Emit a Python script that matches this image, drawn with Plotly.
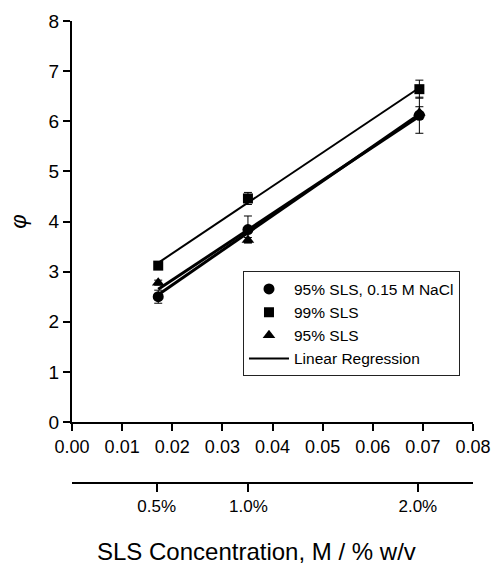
import numpy as np
import plotly.graph_objects as go

# ---- data ----
conc_M = [0.0172, 0.0351, 0.0693]

phi_nacl = [2.50, 3.84, 6.12]        # 95% SLS, 0.15 M NaCl
err_nacl = [0.13, 0.27, 0.36]
phi_99 = [3.12, 4.46, 6.64]          # 99% SLS
err_99 = [0.05, 0.12, 0.18]
phi_95 = [2.78, 3.63, 6.17]          # 95% SLS
err_95 = [0.05, 0.05, 0.12]

pct_tickvals = [0.0169, 0.0352, 0.0690]
pct_ticktext = ["0.5%", "1.0%", "2.0%"]

x_tickvals = [0.00, 0.01, 0.02, 0.03, 0.04, 0.05, 0.06, 0.07, 0.08]
y_tickvals = [0, 1, 2, 3, 4, 5, 6, 7, 8]

x_title = "SLS Concentration, M / % w/v"

FONT = "Liberation Sans, Arial, Helvetica, sans-serif"

series = [
    ("95% SLS, 0.15 M NaCl", phi_nacl, err_nacl, "circle", 11, 3.0),
    ("99% SLS", phi_99, err_99, "square", 10, 2.0),
    ("95% SLS", phi_95, err_95, "triangle-up", 11, 3.0),
]

fig = go.Figure()

# regression lines
xr = np.array([conc_M[0], conc_M[-1]])
for name, ys, es, sym, sz, lw in series:
    k, b = np.polyfit(conc_M, ys, 1)
    fig.add_trace(go.Scatter(x=xr, y=k * xr + b, mode="lines",
                             line=dict(color="black", width=lw),
                             showlegend=False, hoverinfo="skip"))

# markers with error bars
for name, ys, es, sym, sz, lw in series:
    fig.add_trace(go.Scatter(
        x=conc_M, y=ys, mode="markers", name=name,
        marker=dict(symbol=sym, size=sz, color="black"),
        error_y=dict(type="data", array=es, visible=True,
                     color="black", thickness=1, width=4),
    ))

# legend entry for regression
fig.add_trace(go.Scatter(x=[None], y=[None], mode="lines", name="Linear Regression",
                         line=dict(color="black", width=2)))

# dummy trace on secondary axis
fig.add_trace(go.Scatter(x=[None], y=[None], xaxis="x2", yaxis="y",
                         showlegend=False, hoverinfo="skip"))

fig.update_layout(
    width=493, height=570,
    margin=dict(l=72, r=20, t=21, b=87, autoexpand=False),
    paper_bgcolor="white", plot_bgcolor="white",
    font=dict(family=FONT, color="black", size=16),
    showlegend=True,
    legend=dict(x=0.4264, y=0.458, xanchor="left", yanchor="top",
                bgcolor="white", bordercolor="#222", borderwidth=1,
                font=dict(size=15.5, family=FONT), itemwidth=40,
                tracegroupgap=0),
    xaxis=dict(range=[0, 0.08], tickvals=x_tickvals, tickformat=".2f",
               showline=True, linecolor="black", linewidth=2,
               ticks="outside", ticklen=7, tickwidth=2, tickcolor="black",
               showgrid=False, zeroline=False, anchor="y", automargin=False,
               tickfont=dict(size=18)),
    yaxis=dict(range=[0, 8], tickvals=y_tickvals, domain=[0.132, 1],
               showline=True, linecolor="black", linewidth=2,
               ticks="outside", ticklen=7, tickwidth=2, tickcolor="black",
               showgrid=False, zeroline=False, anchor="x", automargin=False,
               tickfont=dict(size=19),
               title=dict(text="<i>φ</i>", font=dict(size=22), standoff=16)),
    xaxis2=dict(overlaying="x", anchor="free", position=0, side="bottom",
                range=[0, 0.08], tickvals=pct_tickvals, ticktext=pct_ticktext,
                showline=True, linecolor="black", linewidth=2, automargin=False,
                ticks="outside", ticklen=8, tickwidth=2, tickcolor="black",
                showgrid=False, zeroline=False, tickfont=dict(size=17)),
    annotations=[dict(text=x_title, xref="paper", yref="paper",
                      x=0.459, y=-0.149, xanchor="center", yanchor="middle",
                      showarrow=False, font=dict(size=24, family=FONT))],
)

fig.write_html("out.html")
